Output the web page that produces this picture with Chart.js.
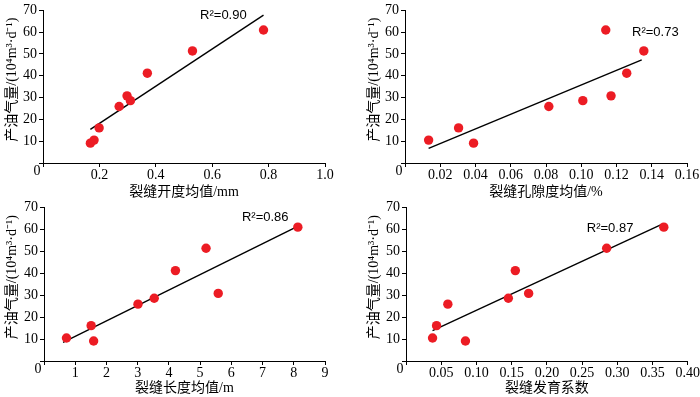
<!DOCTYPE html>
<html>
<head>
<meta charset="utf-8">
<script src="https://cdn.jsdelivr.net/npm/chart.js@4"></script>
<style>
  body { margin: 0; background: #fff; width: 700px; height: 397px; overflow: hidden; position: relative; }
  .box { position: absolute; }
</style>
</head>
<body>
<div class="box" style="left:0;top:0;width:350px;height:201px"><canvas id="c0"></canvas></div>
<div class="box" style="left:362px;top:0;width:338px;height:201px"><canvas id="c1"></canvas></div>
<div class="box" style="left:0;top:197px;width:350px;height:200px"><canvas id="c2"></canvas></div>
<div class="box" style="left:362px;top:197px;width:338px;height:200px"><canvas id="c3"></canvas></div>
<script>
// produksi tiap sumur (urut dari kecil ke besar)
const production = [9.1, 10.5, 16.1, 25.9, 28.6, 30.8, 41.2, 51.4, 61.0];

// parameter rekahan per sumur, urutan sama dengan production
const aperture = [0.168, 0.181, 0.199, 0.270, 0.310, 0.298, 0.370, 0.530, 0.782];
const porosity = [0.0389, 0.0134, 0.0304, 0.0816, 0.1009, 0.1169, 0.1258, 0.1355, 0.1139];
const fracLength = [1.59, 0.72, 1.51, 3.01, 3.53, 5.58, 4.21, 5.19, 8.13];
const devCoef = [0.0844, 0.0377, 0.0434, 0.0594, 0.1453, 0.1741, 0.1552, 0.2849, 0.366];

// garis tren (ujung kiri dan kanan)
const fitAperture = { x: [0.168, 0.782], y: [15.4, 67.8] };
const fitPorosity = { x: [0.0134, 0.1343], y: [6.7, 47.3] };
const fitLength = { x: [0.61, 8.01], y: [8.5, 60.5] };
const fitCoef = { x: [0.0377, 0.3623], y: [13.8, 62.2] };

const r2Labels = ['R²=0.90', 'R²=0.73', 'R²=0.86', 'R²=0.87'];
const xTitles = ['裂缝开度均值/mm', '裂缝孔隙度均值/%', '裂缝长度均值/m', '裂缝发育系数'];
const yTitle = '产油气量/(10⁴m³·d⁻¹)';
const yTicks = [0, 10, 20, 30, 40, 50, 60, 70];

const serif = '"Liberation Serif", "Noto Sans CJK SC", serif';

function pairs(xs, ys) {
  return xs.map((x, i) => ({ x: x, y: ys[i] }));
}

// label "0" di pojok, judul sumbu y dan teks R²
const cornerPlugin = {
  id: 'corner',
  afterDraw(chart, args, opts) {
    const ctx = chart.ctx;
    const xs = chart.scales.x, ys = chart.scales.y;
    ctx.save();
    ctx.fillStyle = '#000';
    ctx.font = '14px ' + serif;
    ctx.textAlign = 'center';
    ctx.textBaseline = 'middle';
    ctx.fillText('0', xs.left - 6, ys.bottom + 8);

    ctx.save();
    ctx.translate(12, (ys.top + ys.bottom) / 2 - 7);
    ctx.rotate(-Math.PI / 2);
    ctx.fillText(yTitle, 0, 0);
    ctx.restore();

    ctx.font = '13px "Liberation Sans", Arial, sans-serif';
    ctx.textAlign = 'left';
    ctx.fillText(opts.text, xs.getPixelForValue(opts.at[0]), ys.getPixelForValue(opts.at[1]));
    ctx.restore();
  }
};

function makeChart(id, xs, fit, xMax, xStep, digits, xTitle, r2, r2At, geo) {
  const ctx = document.getElementById(id).getContext('2d');
  return new Chart(ctx, {
    type: 'scatter',
    data: {
      datasets: [{
        data: pairs(xs, production),
        backgroundColor: 'rgb(236,28,36)',
        borderWidth: 0,
        pointRadius: 4.7,
        order: 0
      }, {
        type: 'line',
        data: pairs(fit.x, fit.y),
        borderColor: '#000',
        borderWidth: 1.4,
        pointRadius: 0,
        fill: false,
        order: 1
      }]
    },
    options: {
      responsive: true,
      maintainAspectRatio: false,
      animation: false,
      events: [],
      layout: { autoPadding: false, padding: { left: 0, top: geo.top, right: geo.right, bottom: 0 } },
      plugins: {
        legend: { display: false },
        tooltip: { enabled: false },
        corner: { text: r2, at: r2At }
      },
      scales: {
        x: {
          type: 'linear',
          min: 0,
          max: xMax,
          afterFit: s => { s.height = geo.xh; },
          ticks: {
            stepSize: xStep,
            color: '#000',
            padding: 0,
            maxRotation: 0,
            font: { family: serif, size: 14 },
            callback: v => v === 0 ? '' : v.toFixed(digits)
          },
          grid: { drawOnChartArea: false, color: '#000', tickLength: 4 },
          border: { color: '#000', width: 1 },
          title: {
            display: true,
            text: xTitle,
            color: '#000',
            padding: 0,
            font: { family: serif, size: 14, lineHeight: 1.2 }
          }
        },
        y: {
          min: 0,
          max: 70,
          afterFit: s => { s.width = geo.left; },
          afterBuildTicks: s => { s.ticks = yTicks.map(v => ({ value: v })); },
          ticks: {
            color: '#000',
            padding: 2,
            font: { family: serif, size: 14 },
            callback: v => v === 0 ? '' : v
          },
          grid: { drawOnChartArea: false, color: '#000', tickLength: 4 },
          border: { color: '#000', width: 1 }
        }
      }
    },
    plugins: [cornerPlugin]
  });
}

makeChart('c0', aperture, fitAperture, 1.0, 0.2, 1, xTitles[0], r2Labels[0], [0.557, 67.5],
  { left: 43, top: 7, right: 25, xh: 38 });
makeChart('c1', porosity, fitPorosity, 0.16, 0.02, 2, xTitles[1], r2Labels[1], [0.1288, 59.9],
  { left: 43, top: 7, right: 13, xh: 38 });
makeChart('c2', fracLength, fitLength, 9, 1, 0, xTitles[2], r2Labels[2], [6.34, 65.4],
  { left: 44, top: 8, right: 25, xh: 36 });
makeChart('c3', devCoef, fitCoef, 0.4, 0.05, 2, xTitles[3], r2Labels[3], [0.2567, 60.2],
  { left: 44, top: 8, right: 12, xh: 36 });
</script>
</body>
</html>
